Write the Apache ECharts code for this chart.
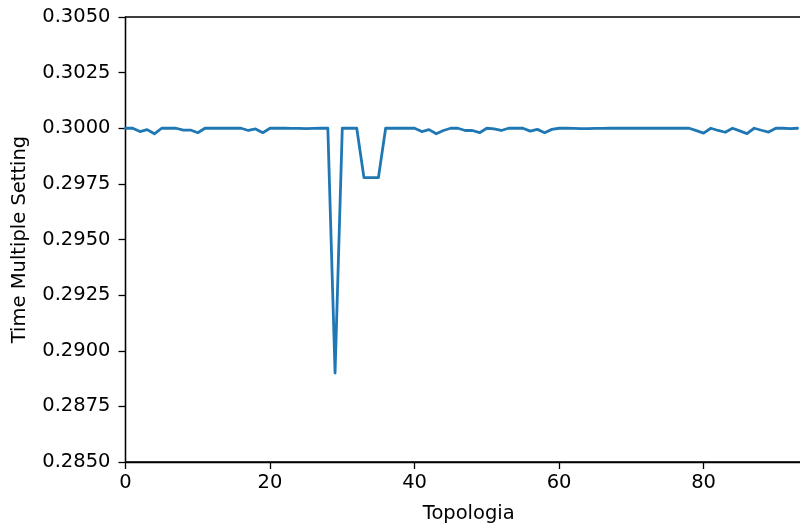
<!DOCTYPE html>
<html>
<head>
<meta charset="utf-8">
<script src="https://cdn.jsdelivr.net/npm/echarts@6/dist/echarts.min.js"></script>
<style>html,body{margin:0;padding:0;background:#fff;overflow:hidden;}#c{width:800px;height:526px;}</style>
</head>
<body>
<div id="c"></div>
<script>
var xLabel = 'Topologia';
var yLabel = 'Time Multiple Setting';
var xTicks = [0, 20, 40, 60, 80];
var xMax = 95;
var tmsValues = [
  0.3000, 0.3000, 0.29985, 0.29994, 0.29975, 0.3000, 0.3000, 0.3000, 0.29992, 0.29992,
  0.29980, 0.3000, 0.3000, 0.3000, 0.3000, 0.3000, 0.3000, 0.29990, 0.29997, 0.29980,
  0.3000, 0.3000, 0.3000, 0.29999, 0.29999, 0.29998, 0.29999, 0.3000, 0.3000, 0.2890,
  0.3000, 0.3000, 0.3000, 0.29778, 0.29778, 0.29778, 0.3000, 0.3000, 0.3000, 0.3000,
  0.3000, 0.29985, 0.29994, 0.29975, 0.29990, 0.3000, 0.3000, 0.29990, 0.29990, 0.29980,
  0.3000, 0.29997, 0.29990, 0.3000, 0.3000, 0.3000, 0.29987, 0.29995, 0.29980, 0.29995,
  0.3000, 0.3000, 0.29999, 0.29998, 0.29998, 0.29999, 0.29999, 0.3000, 0.3000, 0.3000,
  0.3000, 0.3000, 0.3000, 0.3000, 0.3000, 0.3000, 0.3000, 0.3000, 0.3000, 0.29989,
  0.29978, 0.3000, 0.29990, 0.29982, 0.3000, 0.29988, 0.29976, 0.3000, 0.29991, 0.29983,
  0.3000, 0.3000, 0.29998, 0.3000
];
var data = tmsValues.map(function (v, i) { return [i, v]; });
var font = 'DejaVu Sans';
var fs = 19.5;
var chart = echarts.init(document.getElementById('c'), null, {renderer: 'canvas'});
chart.setOption({
  animation: false,
  grid: {left: 125.5, right: -12, top: 17, bottom: 64, show: true, borderColor: '#000', borderWidth: 1.3,
    backgroundColor: 'transparent', containLabel: false, outerBoundsMode: 'none'},
  xAxis: {
    type: 'value', min: 0, max: xMax,
    name: xLabel, nameLocation: 'middle', nameGap: 42,
    nameTextStyle: {fontFamily: font, fontSize: fs, color: '#000'},
    axisLine: {show: true, lineStyle: {color: '#000', width: 1.3}},
    axisTick: {show: true, length: 7, lineStyle: {color: '#000', width: 1.3}, customValues: xTicks},
    axisLabel: {fontFamily: font, fontSize: fs, color: '#000', margin: 11, customValues: xTicks},
    splitLine: {show: false}
  },
  yAxis: {
    type: 'value', min: 0.285, max: 0.305, interval: 0.0025,
    name: yLabel, nameLocation: 'middle', nameGap: 96, nameRotate: 90,
    nameTextStyle: {fontFamily: font, fontSize: fs, color: '#000'},
    axisLine: {show: true, lineStyle: {color: '#000', width: 1.3}},
    axisTick: {show: true, length: 7, lineStyle: {color: '#000', width: 1.3}},
    axisLabel: {fontFamily: font, fontSize: fs, color: '#000', margin: 15,
      formatter: function (v) { return v.toFixed(4); }},
    splitLine: {show: false}
  },
  series: [{
    type: 'line', data: data, showSymbol: false, symbol: 'none',
    lineStyle: {color: '#1f77b4', width: 2.8, join: 'round', cap: 'round'},
    itemStyle: {color: '#1f77b4'}
  }]
});
</script>
</body>
</html>
